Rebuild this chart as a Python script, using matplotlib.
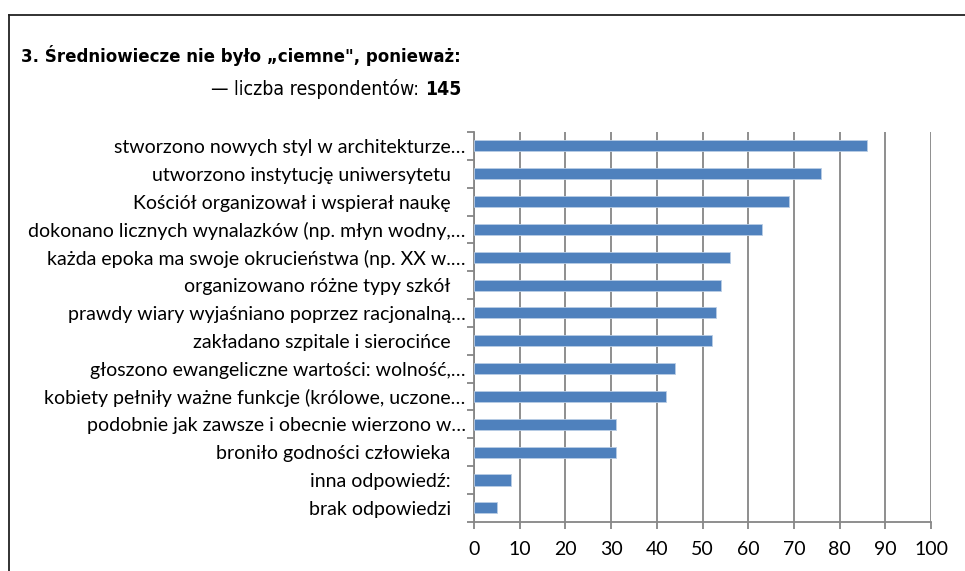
import matplotlib
matplotlib.use("Agg")
import matplotlib.pyplot as plt
from matplotlib.lines import Line2D
import numpy as np

categories = [
    "stworzono nowych styl w architekturze…",
    "utworzono instytucję uniwersytetu",
    "Kościół organizował i wspierał naukę",
    "dokonano licznych wynalazków (np. młyn wodny,…",
    "każda epoka ma swoje okrucieństwa (np. XX w.…",
    "organizowano różne typy szkół",
    "prawdy wiary wyjaśniano poprzez racjonalną…",
    "zakładano szpitale i sierocińce",
    "głoszono ewangeliczne wartości: wolność,…",
    "kobiety pełniły ważne funkcje (królowe, uczone…",
    "podobnie jak zawsze i obecnie wierzono w…",
    "broniło godności człowieka",
    "inna odpowiedź:",
    "brak odpowiedzi",
]
values = [86, 76, 69, 63, 56, 54, 53, 52, 44, 42, 31, 31, 8, 5]
xticks = [0, 10, 20, 30, 40, 50, 60, 70, 80, 90, 100]
title = "3. Średniowiecze nie było „ciemne\", ponieważ:"
subtitle_plain = "— liczba respondentów: "
subtitle_bold = "145"

W, H = 965, 571
fig = plt.figure(figsize=(W / 100, H / 100), dpi=100)
fig.patch.set_facecolor("white")

ax = fig.add_axes([474 / W, 1 - 521.7 / H, (931 - 474) / W, (521.7 - 132) / H])

y = np.arange(len(categories))
ax.barh(y, values, height=0.4, color="#4F81BD", edgecolor="#B9CDE5", linewidth=0.6, zorder=3)

ax.set_xlim(0, 100)
ax.set_ylim(len(categories) - 0.5, -0.5)
ax.set_xticks(xticks)
ax.set_xticklabels([str(t) for t in xticks])
ax.xaxis.grid(True, color="#868686", linewidth=1.3, zorder=0)
ax.set_axisbelow(True)

labfont = dict(family=["Lato", "DejaVu Sans"], size=14)
ax.set_yticks(y)
ax.set_yticklabels([c if c.endswith("…") else c + "   " for c in categories], **labfont)
ax.set_yticks(np.arange(len(categories) + 1) - 0.5, minor=True)
ax.tick_params(axis="y", which="major", length=0, pad=6)
ax.tick_params(axis="y", which="minor", length=5, width=1.3, color="#868686", direction="out")
ax.tick_params(axis="x", length=5, width=1.3, color="#868686", direction="out", pad=9)
for lab in ax.get_xticklabels():
    lab.set_fontfamily(["Lato", "DejaVu Sans"])
    lab.set_fontsize(14)

for s in ["top", "right"]:
    ax.spines[s].set_visible(False)
for s in ["left", "bottom"]:
    ax.spines[s].set_color("#868686")
    ax.spines[s].set_linewidth(1.3)

# outer frame (left and top edges)
fig.add_artist(Line2D([9 / W, 9 / W], [0, 1 - 15 / H], transform=fig.transFigure, color="#222222", linewidth=1.3))
fig.add_artist(Line2D([9 / W, 1], [1 - 15 / H, 1 - 15 / H], transform=fig.transFigure, color="#222222", linewidth=1.3))

tfont = ["DejaVu Sans"]
renderer = fig.canvas.get_renderer()

t1 = fig.text(461 / W, 1 - 62 / H, title, ha="right", va="baseline", fontsize=15,
              fontweight="bold", fontstretch="condensed", family=tfont)
w1 = t1.get_window_extent(renderer).width
t1.set_fontsize(15 * 440 / w1)

sub_size = 15
t2 = fig.text(461 / W, 1 - 95 / H, subtitle_bold, ha="right", va="baseline", fontsize=sub_size,
              fontweight="bold", fontstretch="condensed", family=tfont)
t3 = fig.text(0, 1 - 95 / H, subtitle_plain, ha="right", va="baseline", fontsize=sub_size,
              fontstretch="condensed", family=tfont)
wtot = t2.get_window_extent(renderer).width + t3.get_window_extent(renderer).width
sub_size = 15 * 250 / wtot
t2.set_fontsize(sub_size)
t3.set_fontsize(sub_size)
bb = t2.get_window_extent(renderer)
t3.set_x(bb.x0 / W)

fig.savefig("out.png", dpi=100, facecolor="white")
